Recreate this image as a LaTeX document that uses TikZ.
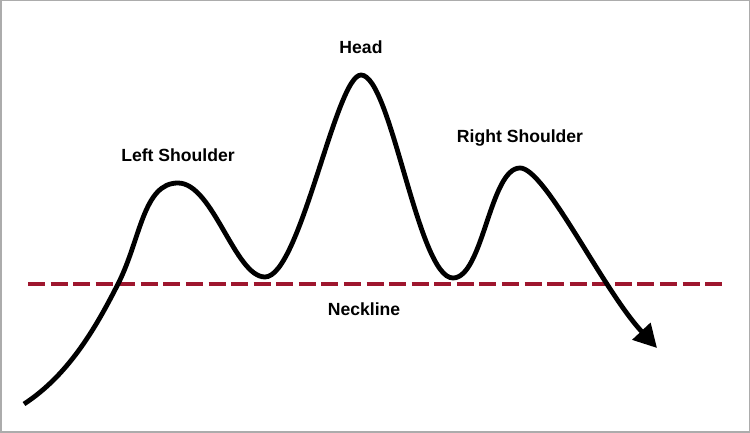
\documentclass[tikz,border=0pt]{standalone}
\usepackage{fontspec}
\setmainfont{Liberation Sans}
\usepackage{xcolor}
\usepackage{tikz}
\usetikzlibrary{arrows.meta,positioning}
\definecolor{neckred}{RGB}{158,22,46}
\tikzset{lbl/.style={font=\bfseries\fontsize{17.6}{20}\selectfont, anchor=base, inner sep=0pt}}

\begin{document}
\begin{tikzpicture}[x=1pt,y=1pt]

\useasboundingbox (0,0) rectangle (750,433);
\draw[gray!65, line width=1.5pt] (0.75,0.75) rectangle (749.25,432.25);

\coordinate(st) at (24,29);
\coordinate(c1) at (118,149);
\coordinate(ls) at (178,250);
\coordinate(t1) at (265,156);
\coordinate(hd) at (361,358);
\coordinate(t2) at (453,155);
\coordinate(rs) at (520,265);
\coordinate(tip) at (657,85);
\coordinate(n0) at (28,149);
\coordinate(n1) at (722,149);

\node[lbl, above=21pt of ls](lsl) {Left Shoulder};
\node[lbl, above=21pt of hd](hdl) {Head};
\node[lbl, above=22pt of rs](rsl) {Right Shoulder};
\node[lbl] at (364,117)(nkl) {Neckline};

\draw[neckred, line width=4pt, dash pattern=on 17pt off 5.57pt] (n0) -- (n1);
\draw[line width=4.8pt, -{Triangle[length=23pt, width=24pt]}] (st) .. controls +(33:55) and +(243:45) .. (c1)
  .. controls +(63:50) and +(-35,0) .. (ls)
  .. controls +(35,0) and +(-30,0) .. (t1)
  .. controls +(35,0) and +(-25,0) .. (hd)
  .. controls +(30,0) and +(-35,0) .. (t2)
  .. controls +(30,0) and +(-30,0) .. (rs)
  .. controls +(25,0) and +(133:80) .. (tip);
\end{tikzpicture}
\end{document}
